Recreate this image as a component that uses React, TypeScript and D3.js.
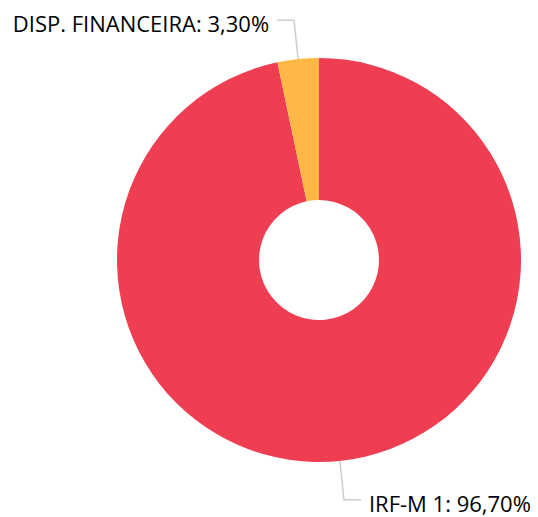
import React from "react";
import * as d3 from "d3";

const categories = ["IRF-M 1", "DISP. FINANCEIRA"];
const values = [96.7, 3.3];
const labels = ["IRF-M 1: 96,70%", "DISP. FINANCEIRA: 3,30%"];
const colors = ["#EF3D52", "#FFB846"];

const W = 538;
const H = 517;
const cx = 319;
const cy = 260;
const outerR = 202;
const innerR = 60;

export default function App() {
  const pie = d3.pie<number>().sort(null).value((d) => d)(values);
  const arc = d3.arc<d3.PieArcDatum<number>>().innerRadius(innerR).outerRadius(outerR);
  return (
    <svg width={W} height={H} style={{ position: "absolute", left: 0, top: 0 }}>
      <g transform={`translate(${cx},${cy})`}>
        {pie.map((p, i) => (
          <path key={categories[i]} d={arc(p) || ""} fill={colors[i]} />
        ))}
        {pie.map((p, i) => {
          const a = (p.startAngle + p.endAngle) / 2;
          const x0 = Math.sin(a) * outerR;
          const y0 = -Math.cos(a) * outerR;
          const r1 = 241;
          const x1 = Math.sin(a) * r1;
          const y1 = -Math.cos(a) * r1;
          const right = x1 >= 0;
          const x2 = x1 + (right ? 17 : -17);
          const tx = x2 + (right ? 8 : -8);
          return (
            <g key={"l" + i}>
              <path
                d={`M${x0},${y0}L${x1},${y1}L${x2},${y1}`}
                fill="none"
                stroke="#cccccc"
                strokeWidth={1.5}
              />
              <text
                x={tx}
                y={y1 + 12}
                textAnchor={right ? "start" : "end"}
                fontFamily="'Open Sans', sans-serif"
                fontSize={22}
                fill="#000"
              >
                {labels[i]}
              </text>
            </g>
          );
        })}
      </g>
    </svg>
  );
}
